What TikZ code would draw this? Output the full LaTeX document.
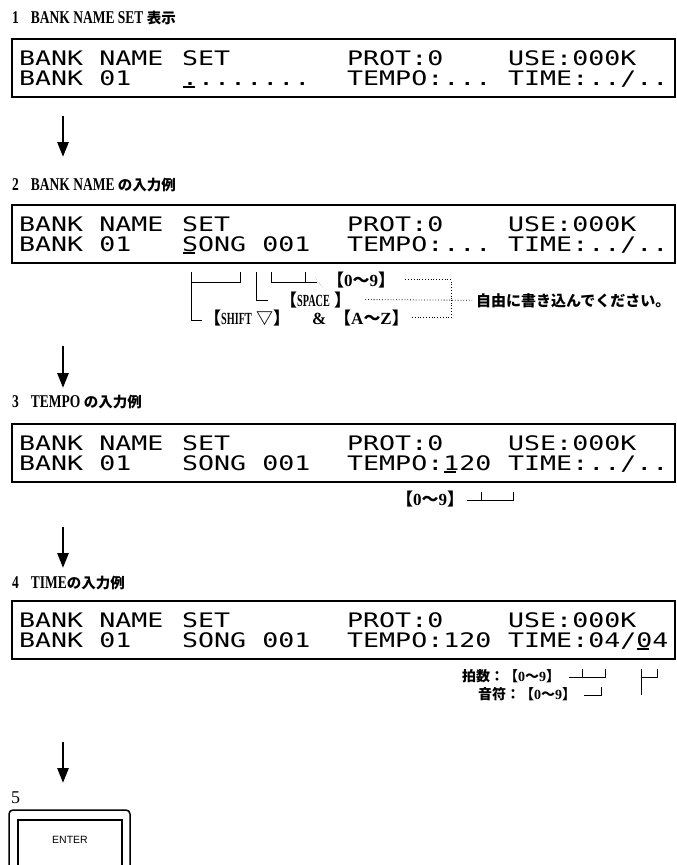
\documentclass[tikz,border=0pt]{standalone}
\usepackage{fontspec}
\usetikzlibrary{arrows.meta}
\setmainfont{Liberation Serif}
\newfontfamily\lcd[FakeStretch=1.33]{DejaVu Sans Mono}
\newfontfamily\tl[FakeStretch=0.75]{Liberation Serif}
\newfontfamily\tln[FakeStretch=0.6]{Liberation Serif}
\newfontfamily\jp{Noto Sans CJK JP}
\newfontfamily\sansf{Liberation Sans}
\newcommand\zeronine{{\jp 【}0{\jp ～}9{\jp 】}}
\newcommand\jpt[1]{{\jp\fontsize{14.5}{14.5}\selectfont #1}}
\tikzset{
  ttl/.style={anchor=base west, inner sep=0pt, font=\fontsize{18}{18}\selectfont\tl\bfseries},
  lcdt/.style={anchor=base west, inner sep=0pt, font=\fontsize{20}{20}\selectfont\lcd},
  disp/.style={draw, line width=1.5pt, anchor=north west, minimum width=663pt, minimum height=58pt, inner sep=0pt},
  ann/.style={anchor=base west, inner sep=0pt, font=\fontsize{17}{17}\selectfont\bfseries},
  brk/.style={line width=1pt},
  dots/.style={dotted, line width=0.8pt},
  cur/.style={line width=1.6pt},
  flow/.style={line width=2.8pt, -{Triangle[length=15pt,width=11pt]}},
}
\begin{document}
\begin{tikzpicture}[x=1pt,y=-1pt]
\useasboundingbox (0,0) rectangle (677,865);

% ---------- 1
\node[ttl] (t1) at (12,23) {1\hspace{12pt}BANK NAME SET \jpt{表示}};
\node[disp] (box1) at (11,38) {};
\node[lcdt] (b1a) at (19,65) {BANK NAME};
\node[lcdt] (b1b) at (182,65) {SET};
\node[lcdt] (b1c) at (347,65) {PROT:0};
\node[lcdt] (b1d) at (508,65) {USE:000K};
\node[lcdt] (b1e) at (19,85) {BANK 01};
\node[lcdt] (b1f) at (182,85) {........};
\node[lcdt] (b1g) at (347,85) {TEMPO:...};
\node[lcdt] (b1h) at (508,85) {TIME:../..};
\draw[cur] (183,87) -- (195,87);

\coordinate (a1s) at (63,116);
\coordinate (a1e) at (63,157);
\draw[flow] (a1s) -- (a1e);

% ---------- 2
\node[ttl] (t2) at (12,190) {2\hspace{12pt}BANK NAME \jpt{の入力例}};
\node[disp] (box2) at (11,204) {};
\node[lcdt] (b2a) at (19,231) {BANK NAME};
\node[lcdt] (b2b) at (182,231) {SET};
\node[lcdt] (b2c) at (347,231) {PROT:0};
\node[lcdt] (b2d) at (508,231) {USE:000K};
\node[lcdt] (b2e) at (19,251) {BANK 01};
\node[lcdt] (b2f) at (182,251) {SONG 001};
\node[lcdt] (b2g) at (347,251) {TEMPO:...};
\node[lcdt] (b2h) at (508,251) {TIME:../..};
\draw[cur] (183,253) -- (195,253);

% annotations under 2
\node[ann] (l09) at (327,286) {\zeronine};
\node[ann] (lsp) at (280,306) {{\jp 【}{\tln SPACE} {\jp 】}};
\node[ann] (lsh) at (204,324) {{\jp 【}{\tln SHIFT} {\jp ▽】}\hspace{22pt}\&\hspace{8pt}{\jp 【}A{\jp ～}Z{\jp 】}};
\node[anchor=base west, inner sep=0pt, font=\fontsize{15}{15}\selectfont\jp\bfseries] (free) at (476,306) {自由に書き込んでください。};
\draw[brk] (191,272) -- (191,320) -- (202,320);
\draw[brk] (191,282) -- (240,282) -- (240,272);
\draw[brk] (256,272) -- (256,300) -- (268,300);
\draw[brk] (271,272) -- (271,282) -- (317,282);
\draw[brk] (305,272) -- (305,282);
\draw[line width=0.4pt, dotted] (315,277) -- (323,288);
\coordinate (jn) at (451,300);
\draw[dots] ([xshift=10pt]l09.east) -| (jn);
\draw[dots] ([xshift=3pt]lsh.east) -| (jn);
\draw[dots] ([xshift=14pt]lsp.east) -- ([xshift=-4pt]free.west);

\coordinate (a2s) at (63,346);
\coordinate (a2e) at (63,388);
\draw[flow] (a2s) -- (a2e);

% ---------- 3
\node[ttl] (t3) at (12,407) {3\hspace{12pt}TEMPO \jpt{の入力例}};
\node[disp] (box3) at (11,423) {};
\node[lcdt] (b3a) at (19,450) {BANK NAME};
\node[lcdt] (b3b) at (182,450) {SET};
\node[lcdt] (b3c) at (347,450) {PROT:0};
\node[lcdt] (b3d) at (508,450) {USE:000K};
\node[lcdt] (b3e) at (19,470) {BANK 01};
\node[lcdt] (b3f) at (182,470) {SONG 001};
\node[lcdt] (b3g) at (347,470) {TEMPO:120};
\node[lcdt] (b3h) at (508,470) {TIME:../..};
\draw[cur] (444,472) -- (456,472);

\node[ann] (l3) at (396,505) {\zeronine};
\draw[brk] (467,500) -- (513,500) -- (513,492);
\draw[brk] (481,500) -- (481,492);

\coordinate (a3s) at (63,527);
\coordinate (a3e) at (63,568);
\draw[flow] (a3s) -- (a3e);

% ---------- 4
\node[ttl] (t4) at (12,588) {4\hspace{12pt}TIME\jpt{の入力例}};
\node[disp] (box4) at (11,600) {};
\node[lcdt] (b4a) at (19,627) {BANK NAME};
\node[lcdt] (b4b) at (182,627) {SET};
\node[lcdt] (b4c) at (347,627) {PROT:0};
\node[lcdt] (b4d) at (508,627) {USE:000K};
\node[lcdt] (b4e) at (19,647) {BANK 01};
\node[lcdt] (b4f) at (182,647) {SONG 001};
\node[lcdt] (b4g) at (347,647) {TEMPO:120};
\node[lcdt] (b4h) at (508,647) {TIME:04/04};
\draw[cur] (637,649) -- (649,649);

\node[ann, font=\fontsize{14}{14}\selectfont\bfseries] (l4a) at (462,681) {{\jp 拍数：}\zeronine};
\node[ann, font=\fontsize{14}{14}\selectfont\bfseries] (l4b) at (478,699) {{\jp 音符：}\zeronine};
\draw[brk] (569,677) -- (605,677) -- (605,669);
\draw[brk] (582,677) -- (582,669);
\draw[brk] (641,669) -- (641,695);
\draw[brk] (641,677) -- (657,677) -- (657,669);
\draw[brk] (584,695) -- (601,695) -- (601,687);

\coordinate (a4s) at (63,742);
\coordinate (a4e) at (63,783);
\draw[flow] (a4s) -- (a4e);

% ---------- 5
\node[anchor=base west, inner sep=0pt, font=\fontsize{18}{18}\selectfont] (t5) at (11,803) {5};
\draw[line width=1.5pt, rounded corners=4pt] (9,810) rectangle (130,880);
\draw[line width=1.2pt] (18,820) rectangle (122,880);
\node[font=\fontsize{10.5}{10.5}\selectfont\sansf, inner sep=0pt] (enter) at (70,840) {ENTER};
\end{tikzpicture}
\end{document}
